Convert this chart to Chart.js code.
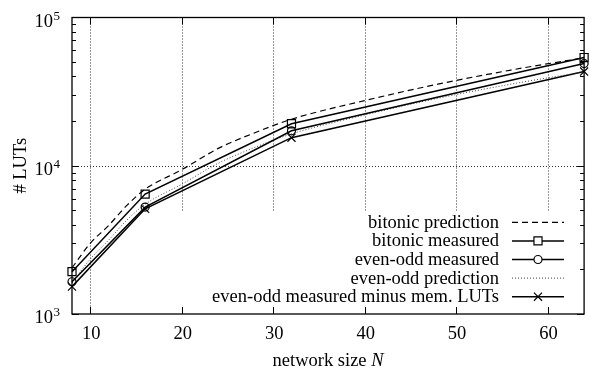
<!DOCTYPE html>
<html>
<head>
<meta charset="utf-8">
<script src="https://cdn.jsdelivr.net/npm/chart.js@4.4.0/dist/chart.umd.min.js"></script>
<style>
  html, body { margin: 0; padding: 0; background: #fff; }
  canvas { display: block; }
</style>
</head>
<body>
<canvas id="lutChart" width="591" height="370"></canvas>
<script>
// measured points
const networkSizes = [8, 16, 32, 64];
const bitonicMeasured = [1930, 6440, 19200, 53700];
const evenOddMeasured = [1650, 5260, 17200, 48900];
const evenOddMinusMem = [1530, 5120, 15460, 43200];

// prediction curves
const predictionSizes = [8, 10, 12, 14, 16, 20, 24, 28, 32, 40, 48, 56, 64];
const bitonicPrediction = [2050, 3000, 3950, 5400, 6950, 9400, 13100, 16700, 20600, 27500, 35500, 44200, 53500];
const evenOddPrediction = [1620, 2350, 3150, 4300, 5500, 7500, 10400, 13300, 16400, 22000, 28500, 35500, 43000];

const xTicks = [10, 20, 30, 40, 50, 60];
const yDecades = [1000, 10000, 100000];
const yExponents = ['3', '4', '5'];

const FONT = '"Liberation Serif", "Times New Roman", serif';

function pts(xs, ys) {
  return xs.map((v, i) => ({ x: v, y: ys[i] }));
}

const gnuplotFrame = {
  id: 'gnuplotFrame',
  beforeDatasetsDraw(chart) {
    const { ctx, chartArea: a, scales: { x, y } } = chart;
    ctx.save();
    ctx.lineWidth = 1;
    ctx.strokeStyle = '#333';
    ctx.setLineDash([1, 2]);
    xTicks.forEach(v => {
      const px = Math.round(x.getPixelForValue(v)) + 0.5;
      ctx.beginPath();
      ctx.moveTo(px, a.top);
      ctx.lineTo(px, a.bottom);
      ctx.stroke();
    });
    const gy = Math.round(y.getPixelForValue(10000)) + 0.5;
    ctx.beginPath();
    ctx.moveTo(a.left, gy);
    ctx.lineTo(a.right, gy);
    ctx.stroke();
    ctx.setLineDash([]);
    // the key box blanks the grid behind it
    ctx.fillStyle = '#fff';
    ctx.fillRect(170, 212, a.right - 170, a.bottom - 212);
    ctx.restore();
  },
  afterDraw(chart) {
    const { ctx, chartArea: a, scales: { x, y } } = chart;
    ctx.save();
    ctx.strokeStyle = '#000';
    ctx.fillStyle = '#000';
    ctx.lineWidth = 1;

    // x ticks, bottom and top, pointing in
    xTicks.forEach(v => {
      const px = Math.round(x.getPixelForValue(v)) + 0.5;
      ctx.beginPath();
      ctx.moveTo(px, a.bottom); ctx.lineTo(px, a.bottom - 7);
      ctx.moveTo(px, a.top); ctx.lineTo(px, a.top + 7);
      ctx.stroke();
    });

    // y ticks, major and minor, left and right
    for (let d = 0; d < yDecades.length - 1; d++) {
      for (let m = 1; m < 10; m++) {
        const v = yDecades[d] * m;
        const py = Math.round(y.getPixelForValue(v)) + 0.5;
        const len = m === 1 ? 7 : 4;
        ctx.beginPath();
        ctx.moveTo(a.left, py); ctx.lineTo(a.left + len, py);
        ctx.moveTo(a.right, py); ctx.lineTo(a.right - len, py);
        ctx.stroke();
      }
    }

    // frame
    ctx.lineWidth = 1.3;
    ctx.strokeRect(a.left, a.top, a.right - a.left, a.bottom - a.top);

    // x tick labels
    ctx.font = '18.5px ' + FONT;
    ctx.textAlign = 'center';
    ctx.textBaseline = 'alphabetic';
    xTicks.forEach(v => {
      ctx.fillText(String(v), x.getPixelForValue(v) + 1, a.bottom + 25);
    });

    // y tick labels, 10 with a raised exponent
    yDecades.forEach((v, i) => {
      const py = y.getPixelForValue(v);
      ctx.font = '18.5px ' + FONT;
      ctx.textAlign = 'right';
      ctx.fillText('10', 53, py + 9);
      ctx.font = '13px ' + FONT;
      ctx.textAlign = 'left';
      ctx.fillText(yExponents[i], 53.5, py + 2);
    });

    // axis titles
    ctx.font = '18.5px ' + FONT;
    const t1 = 'network size ';
    ctx.textAlign = 'left';
    const w1 = ctx.measureText(t1).width;
    ctx.font = 'italic 18.5px ' + FONT;
    const w2 = ctx.measureText('N').width;
    const cx = (a.left + a.right) / 2;
    const start = cx - (w1 + w2) / 2;
    ctx.font = '18.5px ' + FONT;
    ctx.fillText(t1, start, 366);
    ctx.font = 'italic 18.5px ' + FONT;
    ctx.fillText('N', start + w1, 366);

    ctx.save();
    ctx.translate(26, (a.top + a.bottom) / 2);
    ctx.rotate(-Math.PI / 2);
    ctx.font = '18.5px ' + FONT;
    ctx.textAlign = 'center';
    ctx.fillText('# LUTs', 0, 0);
    ctx.restore();

    // key
    chart.data.datasets.forEach((ds, i) => {
      const ly = 222.3 + i * 18.6;
      ctx.font = '18.5px ' + FONT;
      ctx.textAlign = 'right';
      ctx.fillStyle = '#000';
      ctx.fillText(ds.label, 499, ly + 5.5);
      ctx.strokeStyle = ds.borderColor;
      ctx.lineWidth = ds.borderWidth;
      ctx.setLineDash(ds.borderDash || []);
      ctx.beginPath();
      ctx.moveTo(512, ly);
      ctx.lineTo(564, ly);
      ctx.stroke();
      ctx.setLineDash([]);
      if (ds.pointRadius > 0) {
        ctx.lineWidth = ds.pointBorderWidth;
        ctx.strokeStyle = '#000';
        ctx.fillStyle = '#fff';
        Chart.helpers.drawPoint(ctx, {
          pointStyle: ds.pointStyle,
          radius: ds.pointRadius,
          rotation: 0,
          borderWidth: ds.pointBorderWidth
        }, 538, ly);
      }
    });
    ctx.restore();
  }
};

const lineBase = {
  borderColor: '#000',
  borderWidth: 1.5,
  pointBorderColor: '#000',
  pointBackgroundColor: 'rgba(255,255,255,0)',
  pointBorderWidth: 1.2,
  clip: false,
  fill: false
};

new Chart(document.getElementById('lutChart'), {
  type: 'line',
  data: {
    datasets: [
      Object.assign({}, lineBase, {
        label: 'bitonic prediction',
        data: pts(predictionSizes, bitonicPrediction),
        borderDash: [6, 4],
        borderWidth: 1.2,
        pointRadius: 0,
        cubicInterpolationMode: 'monotone'
      }),
      Object.assign({}, lineBase, {
        label: 'bitonic measured',
        data: pts(networkSizes, bitonicMeasured),
        pointStyle: 'rect',
        pointRadius: 5.7
      }),
      Object.assign({}, lineBase, {
        label: 'even-odd measured',
        data: pts(networkSizes, evenOddMeasured),
        pointStyle: 'circle',
        pointRadius: 4
      }),
      Object.assign({}, lineBase, {
        label: 'even-odd prediction',
        data: pts(predictionSizes, evenOddPrediction),
        borderColor: '#444',
        borderDash: [1, 2],
        borderWidth: 1,
        pointRadius: 0,
        cubicInterpolationMode: 'monotone'
      }),
      Object.assign({}, lineBase, {
        label: 'even-odd measured minus mem. LUTs',
        data: pts(networkSizes, evenOddMinusMem),
        pointStyle: 'crossRot',
        pointRadius: 5.7
      })
    ]
  },
  options: {
    responsive: false,
    animation: false,
    devicePixelRatio: 1,
    layout: { padding: { left: 72, top: 17.5, right: 4, bottom: 56 } },
    plugins: {
      legend: { display: false },
      tooltip: { enabled: false }
    },
    scales: {
      x: { type: 'linear', min: 8, max: 64, display: false },
      y: { type: 'logarithmic', min: 1000, max: 100000, display: false }
    }
  },
  plugins: [gnuplotFrame]
});
</script>
</body>
</html>
